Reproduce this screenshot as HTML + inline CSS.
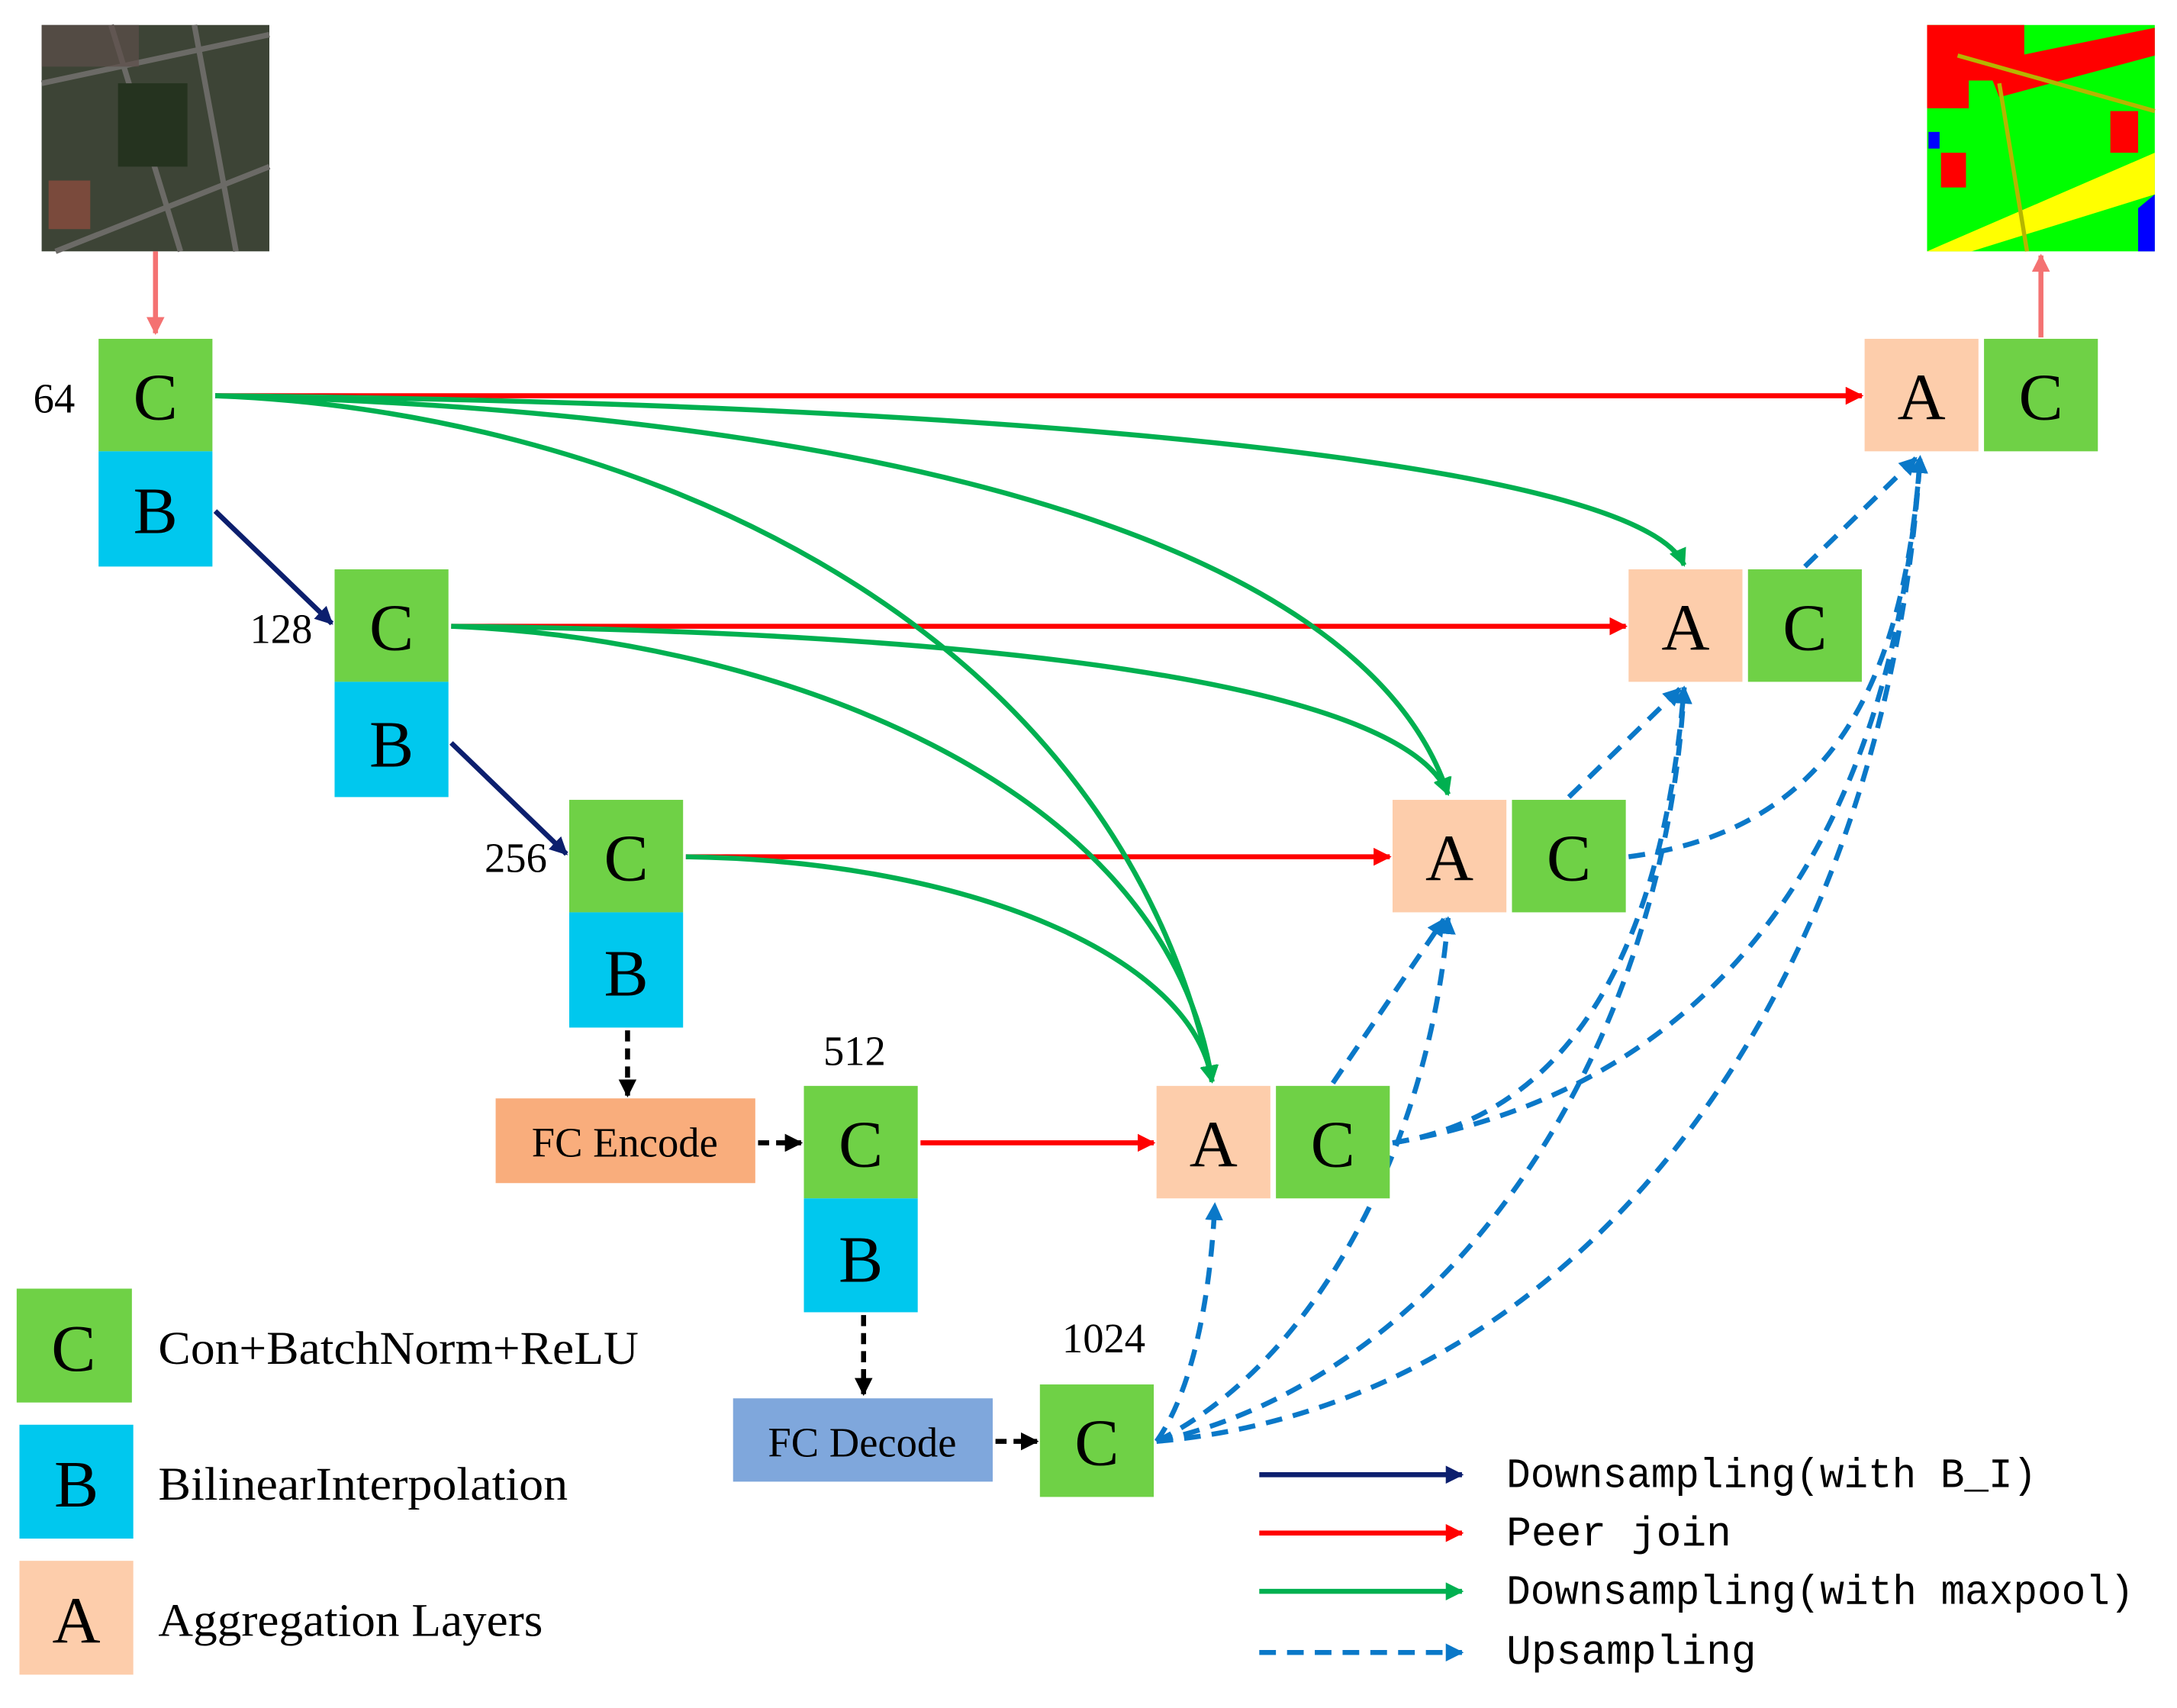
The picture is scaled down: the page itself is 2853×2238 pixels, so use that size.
<!DOCTYPE html>
<html><head><meta charset="utf-8"><style>html,body{margin:0;padding:0;background:#fff}svg{display:block}</style></head><body>
<svg width="2853" height="2238" viewBox="0 0 1568 1230" xmlns="http://www.w3.org/2000/svg">
<defs>
<marker id="mr" viewBox="0 0 10 10" refX="9" refY="5" markerWidth="3.6" markerHeight="3.6" orient="auto"><path d="M0,0L10,5L0,10z" fill="#f00"/></marker>
<marker id="ms" viewBox="0 0 10 10" refX="9" refY="5" markerWidth="3.6" markerHeight="3.6" orient="auto"><path d="M0,0L10,5L0,10z" fill="#f47272"/></marker>
<marker id="mn" viewBox="0 0 10 10" refX="9" refY="5" markerWidth="3.6" markerHeight="3.6" orient="auto"><path d="M0,0L10,5L0,10z" fill="#0c1f6e"/></marker>
<marker id="mg" viewBox="0 0 10 10" refX="9" refY="5" markerWidth="3.6" markerHeight="3.6" orient="auto"><path d="M0,0L10,5L0,10z" fill="#00b050"/></marker>
<marker id="mb" viewBox="0 0 10 10" refX="9" refY="5" markerWidth="3.6" markerHeight="3.6" orient="auto"><path d="M0,0L10,5L0,10z" fill="#0a78c8"/></marker>
<marker id="mk" viewBox="0 0 10 10" refX="9" refY="5" markerWidth="3.6" markerHeight="3.6" orient="auto"><path d="M0,0L10,5L0,10z" fill="#000"/></marker>
</defs>
<rect x="30" y="18" width="164" height="163" fill="#3d4436"/>
<path d="M30,60 L194,25 M40,181 L194,120 M80,18 L130,181 M140,18 L170,181" stroke="#6b6a66" stroke-width="4"/>
<rect x="35" y="130" width="30" height="35" fill="#7a4a3c"/>
<rect x="85" y="60" width="50" height="60" fill="#25331f"/>
<rect x="30" y="18" width="70" height="30" fill="#5c4f4a" opacity=".7"/>
<rect x="1388" y="18" width="164" height="163" fill="#00ff00"/>
<path d="M1388,18h70v40h-40v20h-30z" fill="#f00"/>
<path d="M1430,45 L1552,20 L1552,40 L1440,70z" fill="#f00"/>
<path d="M1388,181 L1552,110 L1552,140 L1420,181z" fill="#ffff00"/>
<rect x="1398" y="110" width="18" height="25" fill="#f00"/>
<rect x="1520" y="80" width="20" height="30" fill="#f00"/>
<rect x="1389" y="95" width="8" height="12" fill="#00f"/>
<path d="M1540,150 L1552,140 L1552,181 L1540,181z" fill="#00f"/>
<path d="M1410,40 L1552,80 M1440,60 L1460,181" stroke="#b5b500" stroke-width="3" fill="none"/>
<g fill="none" stroke-width="3.6">
<line x1="112" y1="181" x2="112" y2="240" stroke="#f47272" marker-end="url(#ms)"/>
<line x1="1470" y1="243" x2="1470" y2="184" stroke="#f47272" marker-end="url(#ms)"/>
<line x1="155" y1="285" x2="1341" y2="285" stroke="#f00" marker-end="url(#mr)"/>
<line x1="325" y1="451" x2="1171" y2="451" stroke="#f00" marker-end="url(#mr)"/>
<line x1="494" y1="617" x2="1001" y2="617" stroke="#f00" marker-end="url(#mr)"/>
<line x1="663" y1="823" x2="831" y2="823" stroke="#f00" marker-end="url(#mr)"/>
<line x1="155" y1="368" x2="239" y2="449" stroke="#0c1f6e" marker-end="url(#mn)"/>
<line x1="325" y1="535" x2="408" y2="615" stroke="#0c1f6e" marker-end="url(#mn)"/>
<g stroke="#00b050" marker-end="url(#mg)">
<path d="M155,285 C700,290 1180,330 1213,407"/>
<path d="M155,285 C600,295 980,380 1043,572"/>
<path d="M155,285 C430,295 800,430 873,779"/>
<path d="M325,451 C700,455 1010,490 1043,572"/>
<path d="M325,451 C550,460 840,560 873,779"/>
<path d="M494,617 C700,620 860,690 873,779"/>
</g>
<g stroke="#000" stroke-dasharray="8,5" marker-end="url(#mk)">
<line x1="452" y1="742" x2="452" y2="789"/>
<line x1="546" y1="823" x2="577" y2="823"/>
<line x1="622" y1="947" x2="622" y2="1004"/>
<line x1="717" y1="1038" x2="747" y2="1038"/>
</g>
<g stroke="#0a78c8" stroke-dasharray="12,8" marker-end="url(#mb)">
<path d="M833,1038 C860,1000 872,930 875,867"/>
<path d="M833,1038 C950,980 1030,820 1043,661"/>
<path d="M833,1038 C1050,990 1200,750 1213,495"/>
<path d="M833,1038 C1150,1010 1360,700 1383,329"/>
<line x1="960" y1="780" x2="1040" y2="662"/>
<path d="M1003,823 C1150,800 1200,650 1213,495"/>
<path d="M1003,823 C1200,790 1360,650 1383,329"/>
<line x1="1130" y1="574" x2="1210" y2="496"/>
<path d="M1173,617 C1300,600 1370,520 1383,329"/>
<line x1="1300" y1="408" x2="1380" y2="330"/>
</g>
<line x1="907" y1="1062" x2="1053" y2="1062" stroke="#0c1f6e" marker-end="url(#mn)"/>
<line x1="907" y1="1104" x2="1053" y2="1104" stroke="#f00" marker-end="url(#mr)"/>
<line x1="907" y1="1146" x2="1053" y2="1146" stroke="#00b050" marker-end="url(#mg)"/>
<line x1="907" y1="1190" x2="1053" y2="1190" stroke="#0a78c8" stroke-dasharray="12,8" marker-end="url(#mb)"/>
</g>
<g font-family="Liberation Serif, serif" font-size="48" text-anchor="middle">
<rect x="71" y="244" width="82" height="81" fill="#6fd146"/><text x="112" y="302">C</text>
<rect x="71" y="325" width="82" height="83" fill="#00c8ee"/><text x="112" y="384">B</text>
<rect x="241" y="410" width="82" height="81" fill="#6fd146"/><text x="282" y="468">C</text>
<rect x="241" y="491" width="82" height="83" fill="#00c8ee"/><text x="282" y="552">B</text>
<rect x="410" y="576" width="82" height="81" fill="#6fd146"/><text x="451" y="634">C</text>
<rect x="410" y="657" width="82" height="83" fill="#00c8ee"/><text x="451" y="717">B</text>
<rect x="579" y="782" width="82" height="81" fill="#6fd146"/><text x="620" y="840">C</text>
<rect x="579" y="863" width="82" height="82" fill="#00c8ee"/><text x="620" y="923">B</text>
<rect x="749" y="997" width="82" height="81" fill="#6fd146"/><text x="790" y="1055">C</text>
<rect x="833" y="782" width="82" height="81" fill="#fdcdab"/><text x="874" y="840">A</text>
<rect x="919" y="782" width="82" height="81" fill="#6fd146"/><text x="960" y="840">C</text>
<rect x="1003" y="576" width="82" height="81" fill="#fdcdab"/><text x="1044" y="634">A</text>
<rect x="1089" y="576" width="82" height="81" fill="#6fd146"/><text x="1130" y="634">C</text>
<rect x="1173" y="410" width="82" height="81" fill="#fdcdab"/><text x="1214" y="468">A</text>
<rect x="1259" y="410" width="82" height="81" fill="#6fd146"/><text x="1300" y="468">C</text>
<rect x="1343" y="244" width="82" height="81" fill="#fdcdab"/><text x="1384" y="302">A</text>
<rect x="1429" y="244" width="82" height="81" fill="#6fd146"/><text x="1470" y="302">C</text>
<rect x="12" y="928" width="83" height="82" fill="#6fd146"/><text x="53" y="987">C</text>
<rect x="14" y="1026" width="82" height="82" fill="#00c8ee"/><text x="55" y="1085">B</text>
<rect x="14" y="1124" width="82" height="82" fill="#fdcdab"/><text x="55" y="1183">A</text>
</g>
<rect x="357" y="791" width="187" height="61" fill="#f9ad7c"/>
<rect x="528" y="1007" width="187" height="60" fill="#7fa7dc"/>
<g font-family="Liberation Serif, serif" font-size="30">
<text x="450" y="833" text-anchor="middle">FC Encode</text>
<text x="621" y="1049" text-anchor="middle">FC Decode</text>
<text x="24" y="297">64</text>
<text x="180" y="463">128</text>
<text x="349" y="628">256</text>
<text x="593" y="767">512</text>
<text x="765" y="974">1024</text>
<text x="114" y="982" font-size="34" textLength="346" lengthAdjust="spacingAndGlyphs">Con+BatchNorm+ReLU</text>
<text x="114" y="1080" font-size="34" textLength="295" lengthAdjust="spacingAndGlyphs">BilinearInterpolation</text>
<text x="114" y="1178" font-size="34" textLength="277" lengthAdjust="spacingAndGlyphs">Aggregation Layers</text>
</g>
<g font-family="Liberation Mono, monospace" font-size="30">
<text x="1085" y="1071" textLength="382" lengthAdjust="spacingAndGlyphs">Downsampling(with B_I)</text>
<text x="1085" y="1113">Peer join</text>
<text x="1085" y="1155" textLength="452" lengthAdjust="spacingAndGlyphs">Downsampling(with maxpool)</text>
<text x="1085" y="1198">Upsampling</text>
</g>
</svg>
</body></html>
